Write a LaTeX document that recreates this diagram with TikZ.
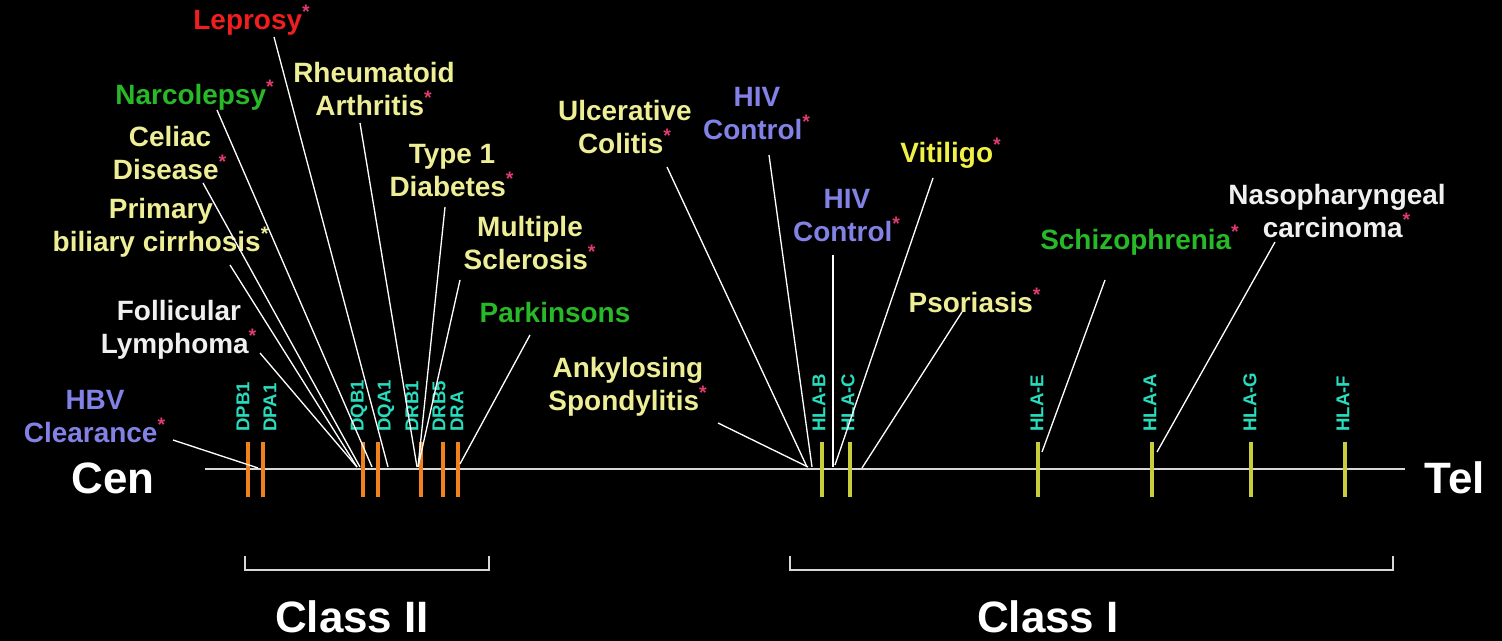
\documentclass[tikz,border=0pt]{standalone}
\usepackage{fontspec}
\setmainfont{Liberation Sans}
\definecolor{yelc}{RGB}{238,238,150}
\definecolor{vitc}{RGB}{240,240,70}
\definecolor{greenc}{RGB}{40,185,40}
\definecolor{redc}{RGB}{240,30,30}
\definecolor{bluec}{RGB}{130,130,230}
\definecolor{whc}{RGB}{240,240,240}
\definecolor{astc}{RGB}{220,60,110}
\definecolor{genec}{RGB}{40,220,190}
\definecolor{orc}{RGB}{240,130,30}
\definecolor{ylc}{RGB}{200,205,60}
\definecolor{linec}{RGB}{215,215,215}
\newcommand\rast{\textsuperscript{\textcolor{astc}{*}}}
\begin{document}
\begin{tikzpicture}[x=0.02cm,y=-0.02cm,
  lbl/.style={font=\fontsize{15.9}{18.8}\selectfont\bfseries, align=center, inner sep=0pt},
  big/.style={font=\fontsize{25}{28}\selectfont\bfseries, inner sep=0pt, text=white},
  gene/.style={font=\fontsize{10.6}{12}\selectfont\bfseries, text=genec, rotate=90, anchor=west, inner sep=0pt},
  conn/.style={draw=white, line width=0.75pt},
  orbar/.style={draw=orc, line width=2.3pt},
  ylbar/.style={draw=ylc, line width=2.8pt},
  mainline/.style={draw=linec, line width=1.5pt},
  bracket/.style={draw=linec, line width=1.1pt},
]
\fill[black] (0,0) rectangle (1502,641);
\useasboundingbox (0,0) rectangle (1502,641);

% chromosome line
\coordinate (L0) at (205,469);
\coordinate (L1) at (1405,469);
\draw[mainline] (L0) -- (L1);

% class II genes
\foreach \x/\t/\n in {248/243/DPB1, 263/270/DPA1, 363/359/DQB1, 378/386/DQA1, 421/412/DRB1, 443/439/DRB5, 458/457/DRA}{
  \draw[orbar] (\x,442) -- (\x,497);
  \node[gene] (g-\n) at (\t,432) {\n};
}
% class I genes
\foreach \x/\t/\n in {822/819/HLA-B, 850/848/HLA-C, 1038/1037/HLA-E, 1152/1150/HLA-A, 1251/1250/HLA-G, 1345/1343/HLA-F}{
  \draw[ylbar] (\x,442) -- (\x,497);
  \node[gene] (g-\n) at (\t,432) {\n};
}

% end labels
\node[big] (cen) at (113,478) {Cen};
\node[big] (tel) at (1455,478) {Tel};

% brackets
\draw[bracket] (245,556) -- (245,570) -- (489,570) -- (489,556);
\draw[bracket] (790,556) -- (790,570) -- (1393,570) -- (1393,556);
\node[big] (c2) at (352,617) {Class II};
\node[big] (c1) at (1048,617) {Class I};

% disease labels
\node[lbl, text=redc] (lep) at (252,20) {Leprosy\rast};
\node[lbl, text=greenc] (nar) at (195,95) {Narcolepsy\rast};
\node[lbl, text=yelc] (cel) at (170,153) {Celiac\\Disease\rast};
\node[lbl, text=yelc] (pbc) at (161,228) {Primary\\biliary cirrhosis\textsuperscript{*}};
\node[lbl, text=whc] (fol) at (179,330) {Follicular\\Lymphoma\rast};
\node[lbl, text=bluec] (hbv) at (95,417) {HBV\\Clearance\rast};
\node[lbl, text=yelc] (rhe) at (374,89) {Rheumatoid\\Arthritis\rast};
\node[lbl, text=yelc] (t1d) at (452,171) {Type 1\\Diabetes\rast};
\node[lbl, text=yelc] (ms) at (530,243) {Multiple\\Sclerosis\rast};
\node[lbl, text=greenc] (par) at (555,313) {Parkinsons};
\node[lbl, text=yelc] (uc) at (625,127) {Ulcerative\\Colitis\rast};
\node[lbl, text=bluec] (hiv1) at (757,114) {HIV\\Control\rast};
\node[lbl, text=bluec] (hiv2) at (847,216) {HIV\\Control\rast};
\node[lbl, text=vitc] (vit) at (951,153) {Vitiligo\rast};
\node[lbl, text=yelc] (pso) at (975,300) {Psoriasis\rast};
\node[lbl, text=greenc] (sch) at (1140,240) {Schizophrenia\rast};
\node[lbl, text=whc] (npc) at (1337,211) {Nasopharyngeal\\carcinoma\rast};
\node[lbl, text=yelc] (as) at (628,387) {Ankylosing\\Spondylitis\rast};

% connector end points
\foreach \n/\sx/\sy/\ex/\ey in {
  lep/274/37/388/467, nar/217/110/372/467, cel/203/183/360/467,
  pbc/230/265/357/467, fol/260/353/357/467, hbv/173/440/258/468,
  rhe/360/123/417/467, t1d/445/207/418/467, ms/460/280/418/467,
  par/530/335/460/464, uc/667/167/807/467, as/718/423/808/467,
  hiv1/769/155/812/467, hiv2/833/255/833/467, vit/933/178/835/465,
  pso/962/312/862/468, sch/1105/280/1042/452, npc/1275/242/1157/452}{
  \coordinate (s-\n) at (\sx,\sy);
  \coordinate (e-\n) at (\ex,\ey);
  \draw[conn] (s-\n) -- (e-\n);
}
\end{tikzpicture}
\end{document}
